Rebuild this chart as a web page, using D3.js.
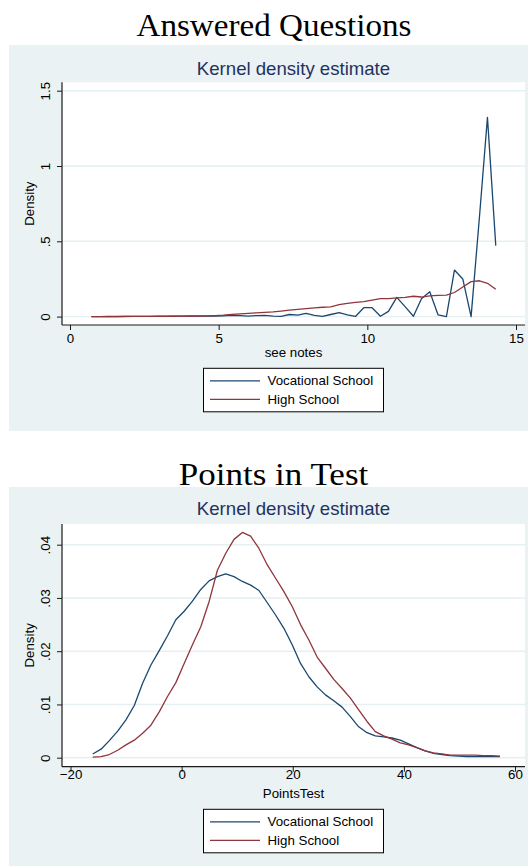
<!DOCTYPE html>
<html>
<head>
<meta charset="utf-8">
<script src="https://cdn.jsdelivr.net/npm/d3@7"></script>
<style>
  html, body { margin: 0; padding: 0; background: #fff; }
  svg { display: block; }
  text { font-family: "Liberation Sans", Arial, sans-serif; }
</style>
</head>
<body>
<svg id="fig" width="528" height="866"></svg>
<script>
// ---- Data -------------------------------------------------------------
const seriesNames = ["Vocational School", "High School"];
const seriesColors = ["#1a476f", "#90353b"];

// Answered questions: kernel density evaluation grid and estimates
const ansX = [0.72, 1.00, 1.28, 1.55, 1.83, 2.11, 2.39, 2.66, 2.94, 3.22,
  3.50, 3.77, 4.05, 4.33, 4.61, 4.88, 5.16, 5.44, 5.72, 5.99,
  6.27, 6.55, 6.83, 7.10, 7.38, 7.66, 7.94, 8.22, 8.49, 8.77,
  9.05, 9.33, 9.60, 9.88, 10.16, 10.44, 10.71, 10.99, 11.27, 11.55,
  11.82, 12.10, 12.38, 12.66, 12.93, 13.21, 13.49, 13.77, 14.04, 14.32];
const ansVoc = [0.0005, 0.0005, 0.0006, 0.0008, 0.001, 0.0012, 0.0015, 0.002, 0.0025, 0.003,
  0.003, 0.0035, 0.004, 0.003, 0.003, 0.004, 0.005, 0.009, 0.006, 0.003,
  0.007, 0.008, 0.003, 0.002, 0.014, 0.010, 0.022, 0.008, 0.002, 0.014,
  0.026, 0.011, 0.001, 0.059, 0.059, 0.002, 0.035, 0.128, 0.066, 0.002,
  0.119, 0.165, 0.011, 0.000, 0.309, 0.250, 0.000, 0.660, 1.323, 0.471];
const ansHigh = [0, 0, 0, 0.0005, 0.0008, 0.001, 0.0012, 0.0015, 0.0018, 0.002,
  0.0022, 0.0026, 0.003, 0.004, 0.005, 0.007, 0.009, 0.015, 0.018, 0.021,
  0.025, 0.028, 0.031, 0.037, 0.043, 0.048, 0.053, 0.058, 0.062, 0.064,
  0.080, 0.088, 0.094, 0.099, 0.110, 0.119, 0.120, 0.124, 0.128, 0.135,
  0.130, 0.137, 0.141, 0.143, 0.160, 0.197, 0.232, 0.238, 0.221, 0.181];
const ansXTicks = [0, 5, 10, 15];
const ansYTicks = [0, 0.5, 1, 1.5];
const ansYTickLabels = ["0", ".5", "1", "1.5"];

// Points in test: kernel density evaluation grid and estimates
const ptsX = [-16.00, -14.50, -13.01, -11.51, -10.02, -8.52, -7.02, -5.53, -4.03, -2.54,
  -1.04, 0.46, 1.95, 3.45, 4.94, 6.44, 7.94, 9.43, 10.93, 12.42,
  13.92, 15.42, 16.91, 18.41, 19.90, 21.40, 22.90, 24.39, 25.89, 27.38,
  28.88, 30.38, 31.87, 33.37, 34.86, 36.36, 37.86, 39.35, 40.85, 42.34,
  43.84, 45.34, 46.83, 48.33, 49.82, 51.32, 52.82, 54.31, 55.81, 57.30];
const ptsVoc = [0.0007, 0.0016, 0.0032, 0.0050, 0.0071, 0.0098, 0.0140, 0.0174, 0.0201, 0.0229,
  0.0259, 0.0275, 0.0294, 0.0316, 0.0332, 0.0340, 0.0345, 0.0340, 0.0331, 0.0324,
  0.0314, 0.0291, 0.0268, 0.0243, 0.0212, 0.0177, 0.0152, 0.0133, 0.0118, 0.0107,
  0.0095, 0.0077, 0.0058, 0.0047, 0.0041, 0.0039, 0.0037, 0.0033, 0.0026, 0.0019,
  0.0013, 0.0008, 0.0006, 0.0004, 0.0003, 0.0002, 0.0002, 0.0002, 0.0002, 0.0002];
const ptsHigh = [0.0001, 0.0002, 0.0006, 0.0014, 0.0024, 0.0033, 0.0046, 0.0061, 0.0086, 0.0115,
  0.0141, 0.0177, 0.0212, 0.0246, 0.0293, 0.0352, 0.0384, 0.0410, 0.0423, 0.0416,
  0.0393, 0.0362, 0.0337, 0.0312, 0.0284, 0.0250, 0.0221, 0.0189, 0.0168, 0.0147,
  0.0130, 0.0112, 0.0090, 0.0068, 0.0049, 0.0041, 0.0035, 0.0028, 0.0024, 0.0019,
  0.0013, 0.0009, 0.0007, 0.0005, 0.0005, 0.0005, 0.0005, 0.0004, 0.0004, 0.0003];
const ptsXTicks = [-20, 0, 20, 40, 60];
const ptsYTicks = [0, 0.01, 0.02, 0.03, 0.04];
const ptsYTickLabels = ["0", ".01", ".02", ".03", ".04"];

const figTitles = ["Answered Questions", "Points in Test"];
const subTitle = "Kernel density estimate";
const xTitles = ["see notes", "PointsTest"];
const yTitle = "Density";

// ---- Drawing ----------------------------------------------------------
const svg = d3.select("#fig");
const panelFill = "#eaf2f3";
const gridColor = "#e6eff1";
const axisColor = "#1a1a1a";

function drawGraph(g) {
  // figure title (document heading)
  svg.append("text")
    .attr("x", g.titleX).attr("y", g.titleY)
    .attr("text-anchor", "middle")
    .attr("textLength", g.titleW)
    .attr("lengthAdjust", "spacingAndGlyphs")
    .style("font-family", "'Liberation Serif', 'Times New Roman', serif")
    .style("font-size", "31px")
    .attr("fill", "#000")
    .text(g.title);

  // graph region
  svg.append("rect")
    .attr("x", 9).attr("y", g.panelTop)
    .attr("width", 540).attr("height", g.panelBottom - g.panelTop)
    .attr("fill", panelFill);

  const left = 62, right = 525;
  const x = d3.scaleLinear().domain(g.xDomain).range(g.xRange);
  const y = d3.scaleLinear().domain(g.yDomain).range(g.yRange);

  // plot region
  svg.append("rect")
    .attr("x", left).attr("y", g.plotTop)
    .attr("width", right - left).attr("height", g.axisY - g.plotTop)
    .attr("fill", "#fff");

  svg.append("text")
    .attr("x", 293.5).attr("y", g.subY)
    .attr("text-anchor", "middle")
    .style("font-size", "18.6px")
    .attr("fill", "#1f3161")
    .text(subTitle);

  // gridlines
  svg.append("g").selectAll("line").data(g.yTicks).join("line")
    .attr("x1", left).attr("x2", right)
    .attr("y1", d => y(d)).attr("y2", d => y(d))
    .attr("stroke", gridColor).attr("stroke-width", 1.4);

  // y axis
  const yAxis = d3.axisLeft(y).tickValues(g.yTicks).tickSize(5)
    .tickFormat((d, i) => g.yLabels[i]);
  const ya = svg.append("g").attr("transform", `translate(${left},0)`).call(yAxis);
  ya.select(".domain").remove();
  ya.selectAll(".tick line").attr("stroke", axisColor);
  ya.selectAll(".tick text")
    .attr("x", null).attr("dy", null)
    .attr("text-anchor", "middle")
    .attr("transform", "translate(-12,0) rotate(-90)")
    .style("font-size", "13.3px")
    .attr("fill", "#000");
  svg.append("line")
    .attr("x1", left).attr("x2", left)
    .attr("y1", g.plotTop).attr("y2", g.axisY)
    .attr("stroke", axisColor).attr("stroke-width", 1.2);

  // x axis
  const xAxis = d3.axisBottom(x).tickValues(g.xTicks).tickSize(5)
    .tickFormat(d => d < 0 ? "\u2212" + Math.abs(d) : String(d));
  const xa = svg.append("g").attr("transform", `translate(0,${g.axisY})`).call(xAxis);
  xa.select(".domain").remove();
  xa.selectAll(".tick line").attr("stroke", axisColor);
  xa.selectAll(".tick text")
    .attr("y", g.tickLabelY - g.axisY).attr("dy", null)
    .style("font-size", "13.3px")
    .attr("fill", "#000");
  svg.append("line")
    .attr("x1", left).attr("x2", right)
    .attr("y1", g.axisY).attr("y2", g.axisY)
    .attr("stroke", axisColor).attr("stroke-width", 1.2);

  // axis titles
  svg.append("text")
    .attr("x", 293.5).attr("y", g.xTitleY)
    .attr("text-anchor", "middle")
    .style("font-size", "13.3px")
    .text(g.xTitle);
  svg.append("text")
    .attr("transform", `translate(34,${(g.plotTop + g.axisY) / 2}) rotate(-90)`)
    .attr("text-anchor", "middle")
    .style("font-size", "13.3px")
    .text(yTitle);

  // density curves
  const line = d3.line()
    .x(d => x(d[0]))
    .y(d => y(d[1]));
  g.series.forEach((vals, k) => {
    svg.append("path")
      .datum(g.xs.map((xv, i) => [xv, vals[i]]))
      .attr("d", line)
      .attr("fill", "none")
      .attr("stroke", seriesColors[k])
      .attr("stroke-width", 1.3)
      .attr("stroke-linejoin", "round");
  });

  // legend
  const lg = svg.append("g").attr("transform", `translate(203.5,${g.legendTop})`);
  lg.append("rect")
    .attr("x", 0).attr("y", 0).attr("width", 180).attr("height", 43.5)
    .attr("fill", "#fff").attr("stroke", "#000").attr("stroke-width", 1);
  seriesNames.forEach((name, k) => {
    const ry = 12.5 + k * 18.5;
    lg.append("line")
      .attr("x1", 6.5).attr("x2", 56.5).attr("y1", ry).attr("y2", ry)
      .attr("stroke", seriesColors[k]).attr("stroke-width", 1.3);
    lg.append("text")
      .attr("x", 64).attr("y", ry + 4.7)
      .style("font-size", "13.3px")
      .text(name);
  });
}

drawGraph({
  title: figTitles[0], titleX: 274, titleY: 36, titleW: 275,
  panelTop: 45, panelBottom: 431,
  subY: 75, plotTop: 82.3, axisY: 325,
  xDomain: [0, 15], xRange: [70, 516],
  yDomain: [0, 1.5], yRange: [316.6, 90.7],
  xTicks: ansXTicks, yTicks: ansYTicks, yLabels: ansYTickLabels,
  tickLabelY: 343, xTitleY: 357, xTitle: xTitles[0],
  legendTop: 368.3,
  xs: ansX, series: [ansVoc, ansHigh]
});

drawGraph({
  title: figTitles[1], titleX: 273.5, titleY: 485, titleW: 189.5,
  panelTop: 487, panelBottom: 866,
  subY: 515, plotTop: 524, axisY: 766.7,
  xDomain: [-20, 60], xRange: [70.5, 515],
  yDomain: [0, 0.04], yRange: [757.7, 544.7],
  xTicks: ptsXTicks, yTicks: ptsYTicks, yLabels: ptsYTickLabels,
  tickLabelY: 779, xTitleY: 798.3, xTitle: xTitles[1],
  legendTop: 809.3,
  xs: ptsX, series: [ptsVoc, ptsHigh]
});
</script>
</body>
</html>
